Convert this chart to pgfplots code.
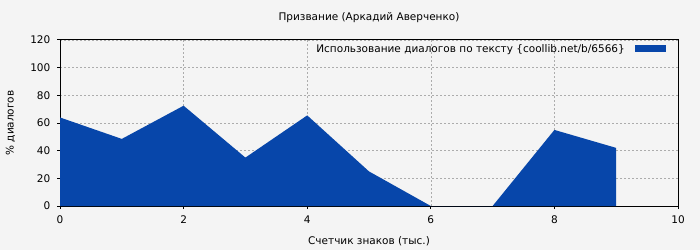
\documentclass[border=0pt]{standalone}
\usepackage{pgfplots}
\pgfplotsset{compat=1.18}
\usepackage{fontspec}
\setmainfont{DejaVu Sans}
\definecolor{bgc}{HTML}{F4F4F4}
\definecolor{fillc}{HTML}{0746AA}
\newcommand{\fs}{\fontsize{10.5bp}{12bp}\selectfont}
\begin{document}
\fs
\begin{tikzpicture}[x=1bp,y=1bp]
\fill[bgc] (0,0) rectangle (700,250);
\begin{axis}[
  at={(60bp,44bp)}, anchor=south west,
  scale only axis, width=618bp, height=166bp,
  xmin=0, xmax=10, ymin=0, ymax=120,
  xtick={0,2,...,10}, ytick={0,20,...,120},
  tick align=outside, tick pos=left,
  major tick length=3bp,
  grid=major,
  grid style={dash pattern=on 2bp off 2bp, gray!65, line width=0.5bp},
  axis line style={black, line width=1bp},
  tick style={black, line width=1bp},
  axis background/.style={fill=bgc},
  /pgf/number format/assume math mode=true,
  tick label style={font=\fs},
  xticklabel style={yshift=-3bp},
  yticklabel style={xshift=-3bp},
  title={Призвание (Аркадий Аверченко)},
  title style={font=\fs, at={(0.5,1)}, anchor=south, yshift=8bp},
  xlabel={Счетчик знаков (тыс.)},
  ylabel={\% диалогов},
  label style={font=\fs},
  xlabel style={yshift=-6bp},
  ylabel style={yshift=8bp},
  legend style={at={(1,1)}, anchor=north east, draw=none, fill=none,
    font=\fs, inner sep=1bp, row sep=0pt, xshift=-11bp, yshift=-1bp},
  legend plot pos=right,
  legend cell align=right,
  legend image code/.code={\path (0bp,0bp); \fill[fillc] (8bp,-3.5bp) rectangle (39bp,3.5bp);},
]
\addplot[fill=fillc, draw=none] coordinates {
(0,0) (0,64) (1,48.5) (2,72.5) (3,35) (4,65.5) (5,25) (6,0) (7,0) (8,55) (9,42) (9,0)} \closedcycle;
\addlegendentry{Использование диалогов по тексту \{coollib.net/b/6566\}}
\end{axis}
\end{tikzpicture}
\end{document}
